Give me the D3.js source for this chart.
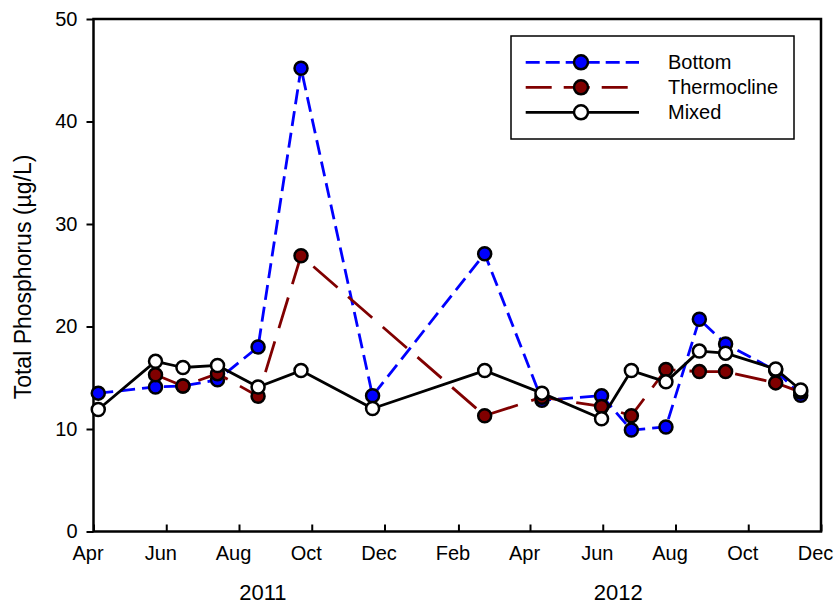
<!DOCTYPE html>
<html><head><meta charset="utf-8">
<script src="https://cdn.jsdelivr.net/npm/d3@7"></script>
<style>body{margin:0;background:#fff}svg{display:block}text{font-family:Arial,"Liberation Sans",sans-serif;fill:#000}</style>
</head><body>
<svg id="c" width="837" height="609"></svg>
<script>
const dates = ["2011-04-05","2011-05-23","2011-06-15","2011-07-14","2011-08-17","2011-09-22","2011-11-21",
  "2012-02-23","2012-04-11","2012-05-31","2012-06-25","2012-07-24","2012-08-21","2012-09-12","2012-10-24","2012-11-14"];
const bottom      = [13.5,14.1,14.2,14.8,18.0,45.2,13.25,27.1,12.8,13.25,9.9,10.2,20.7,18.3,15.7,13.3];
const thermocline = [null,15.3,14.2,15.4,13.2,26.9,null,11.3,13.1,12.2,11.3,15.8,15.6,15.6,14.5,13.6];
const mixed       = [11.9,16.6,16.0,16.2,14.1,15.7,12.0,15.7,13.5,11.0,15.7,14.6,17.6,17.4,15.85,13.8];
const seriesNames = ["Bottom","Thermocline","Mixed"];
const xTickLabels = ["Apr","Jun","Aug","Oct","Dec","Feb","Apr","Jun","Aug","Oct","Dec"];
const yTicks = [0,10,20,30,40,50];
const years = [{label:"2011", date:"2011-08-21"},{label:"2012", date:"2012-06-14"}];

const parse = d3.timeParse("%Y-%m-%d");
const svg = d3.select("#c");
const L=93.5, R=821, T=19, B=531.5;
const x = d3.scaleTime().domain([parse("2011-04-01"), parse("2012-12-01")]).range([L,R]);
const y = d3.scaleLinear().domain([0,50]).range([B,T]);

const styles = [
  {name:seriesNames[0], vals:bottom, color:"#0000ff", fill:"#0000ff", dash:"15,7", ldash:"14,6"},
  {name:seriesNames[1], vals:thermocline, color:"#800000", fill:"#800000", dash:"32,14", ldash:"26,12"},
  {name:seriesNames[2], vals:mixed, color:"#000000", fill:"#ffffff", dash:null, ldash:null}
];

// frame
svg.append("rect").attr("x",L).attr("y",T).attr("width",R-L).attr("height",B-T)
  .attr("fill","none").attr("stroke","#000").attr("stroke-width",2.5);

// y axis
const yAxis = d3.axisLeft(y).tickValues(yTicks).tickSize(7).tickPadding(9).tickFormat(d3.format("d"));
const ya = svg.append("g").attr("transform",`translate(${L},0)`).call(yAxis);
ya.select(".domain").remove();
ya.selectAll("line").attr("stroke","#000").attr("stroke-width",2);
ya.selectAll("text").attr("font-size",20).attr("font-family","Arial, 'Liberation Sans', sans-serif").attr("fill","#000");

// x axis
const xt = d3.timeMonth.range(parse("2011-04-01"), parse("2012-12-02"), 2);
const xAxis = d3.axisBottom(x).tickValues(xt).tickSize(-7).tickPadding(0).tickFormat((d,i)=>xTickLabels[i]);
const xa = svg.append("g").attr("transform",`translate(0,${B})`).call(xAxis);
xa.select(".domain").remove();
xa.selectAll("line").attr("stroke","#000").attr("stroke-width",2);
xa.selectAll("text").attr("font-size",20).attr("font-family","Arial, 'Liberation Sans', sans-serif").attr("fill","#000")
  .attr("dy",null).attr("y",28).attr("dx",-6);

// year labels
svg.selectAll("text.year").data(years).enter().append("text").attr("class","year")
  .attr("x",d=>x(parse(d.date))).attr("y",599.5).attr("text-anchor","middle").attr("font-size",22).text(d=>d.label);

// y title
svg.append("text").attr("transform",`translate(31,277) rotate(-90)`).attr("text-anchor","middle")
  .attr("font-size",23).text("Total Phosphorus (µg/L)");

// series
const plot = svg.append("g");
styles.forEach(s=>{
  const pts = dates.map((d,i)=>({d:parse(d), v:s.vals[i]})).filter(p=>p.v!=null);
  const line = d3.line().x(p=>x(p.d)).y(p=>y(p.v));
  plot.append("path").datum(pts).attr("d",line).attr("fill","none").attr("stroke",s.color)
    .attr("stroke-width",2.8).attr("stroke-dasharray",s.dash).attr("stroke-linejoin","round");
  plot.selectAll(null).data(pts).enter().append("circle")
    .attr("cx",p=>x(p.d)).attr("cy",p=>y(p.v)).attr("r",6.5)
    .attr("fill",s.fill).attr("stroke","#000").attr("stroke-width",2.5);
});

// legend
const lg = svg.append("g");
lg.append("rect").attr("x",511).attr("y",36).attr("width",283).attr("height",103)
  .attr("fill","#fff").attr("stroke","#000").attr("stroke-width",1.5);
styles.forEach((s,i)=>{
  const ly = 62.3 + i*25;
  lg.append("line").attr("x1",525.7).attr("x2",639).attr("y1",ly).attr("y2",ly)
    .attr("stroke",s.color).attr("stroke-width",2.8).attr("stroke-dasharray",s.ldash);
  lg.append("circle").attr("cx",581).attr("cy",ly).attr("r",7)
    .attr("fill",s.fill).attr("stroke","#000").attr("stroke-width",2.5);
  lg.append("text").attr("x",668).attr("y",ly+7).attr("font-size",20).text(s.name);
});
</script>
</body></html>
